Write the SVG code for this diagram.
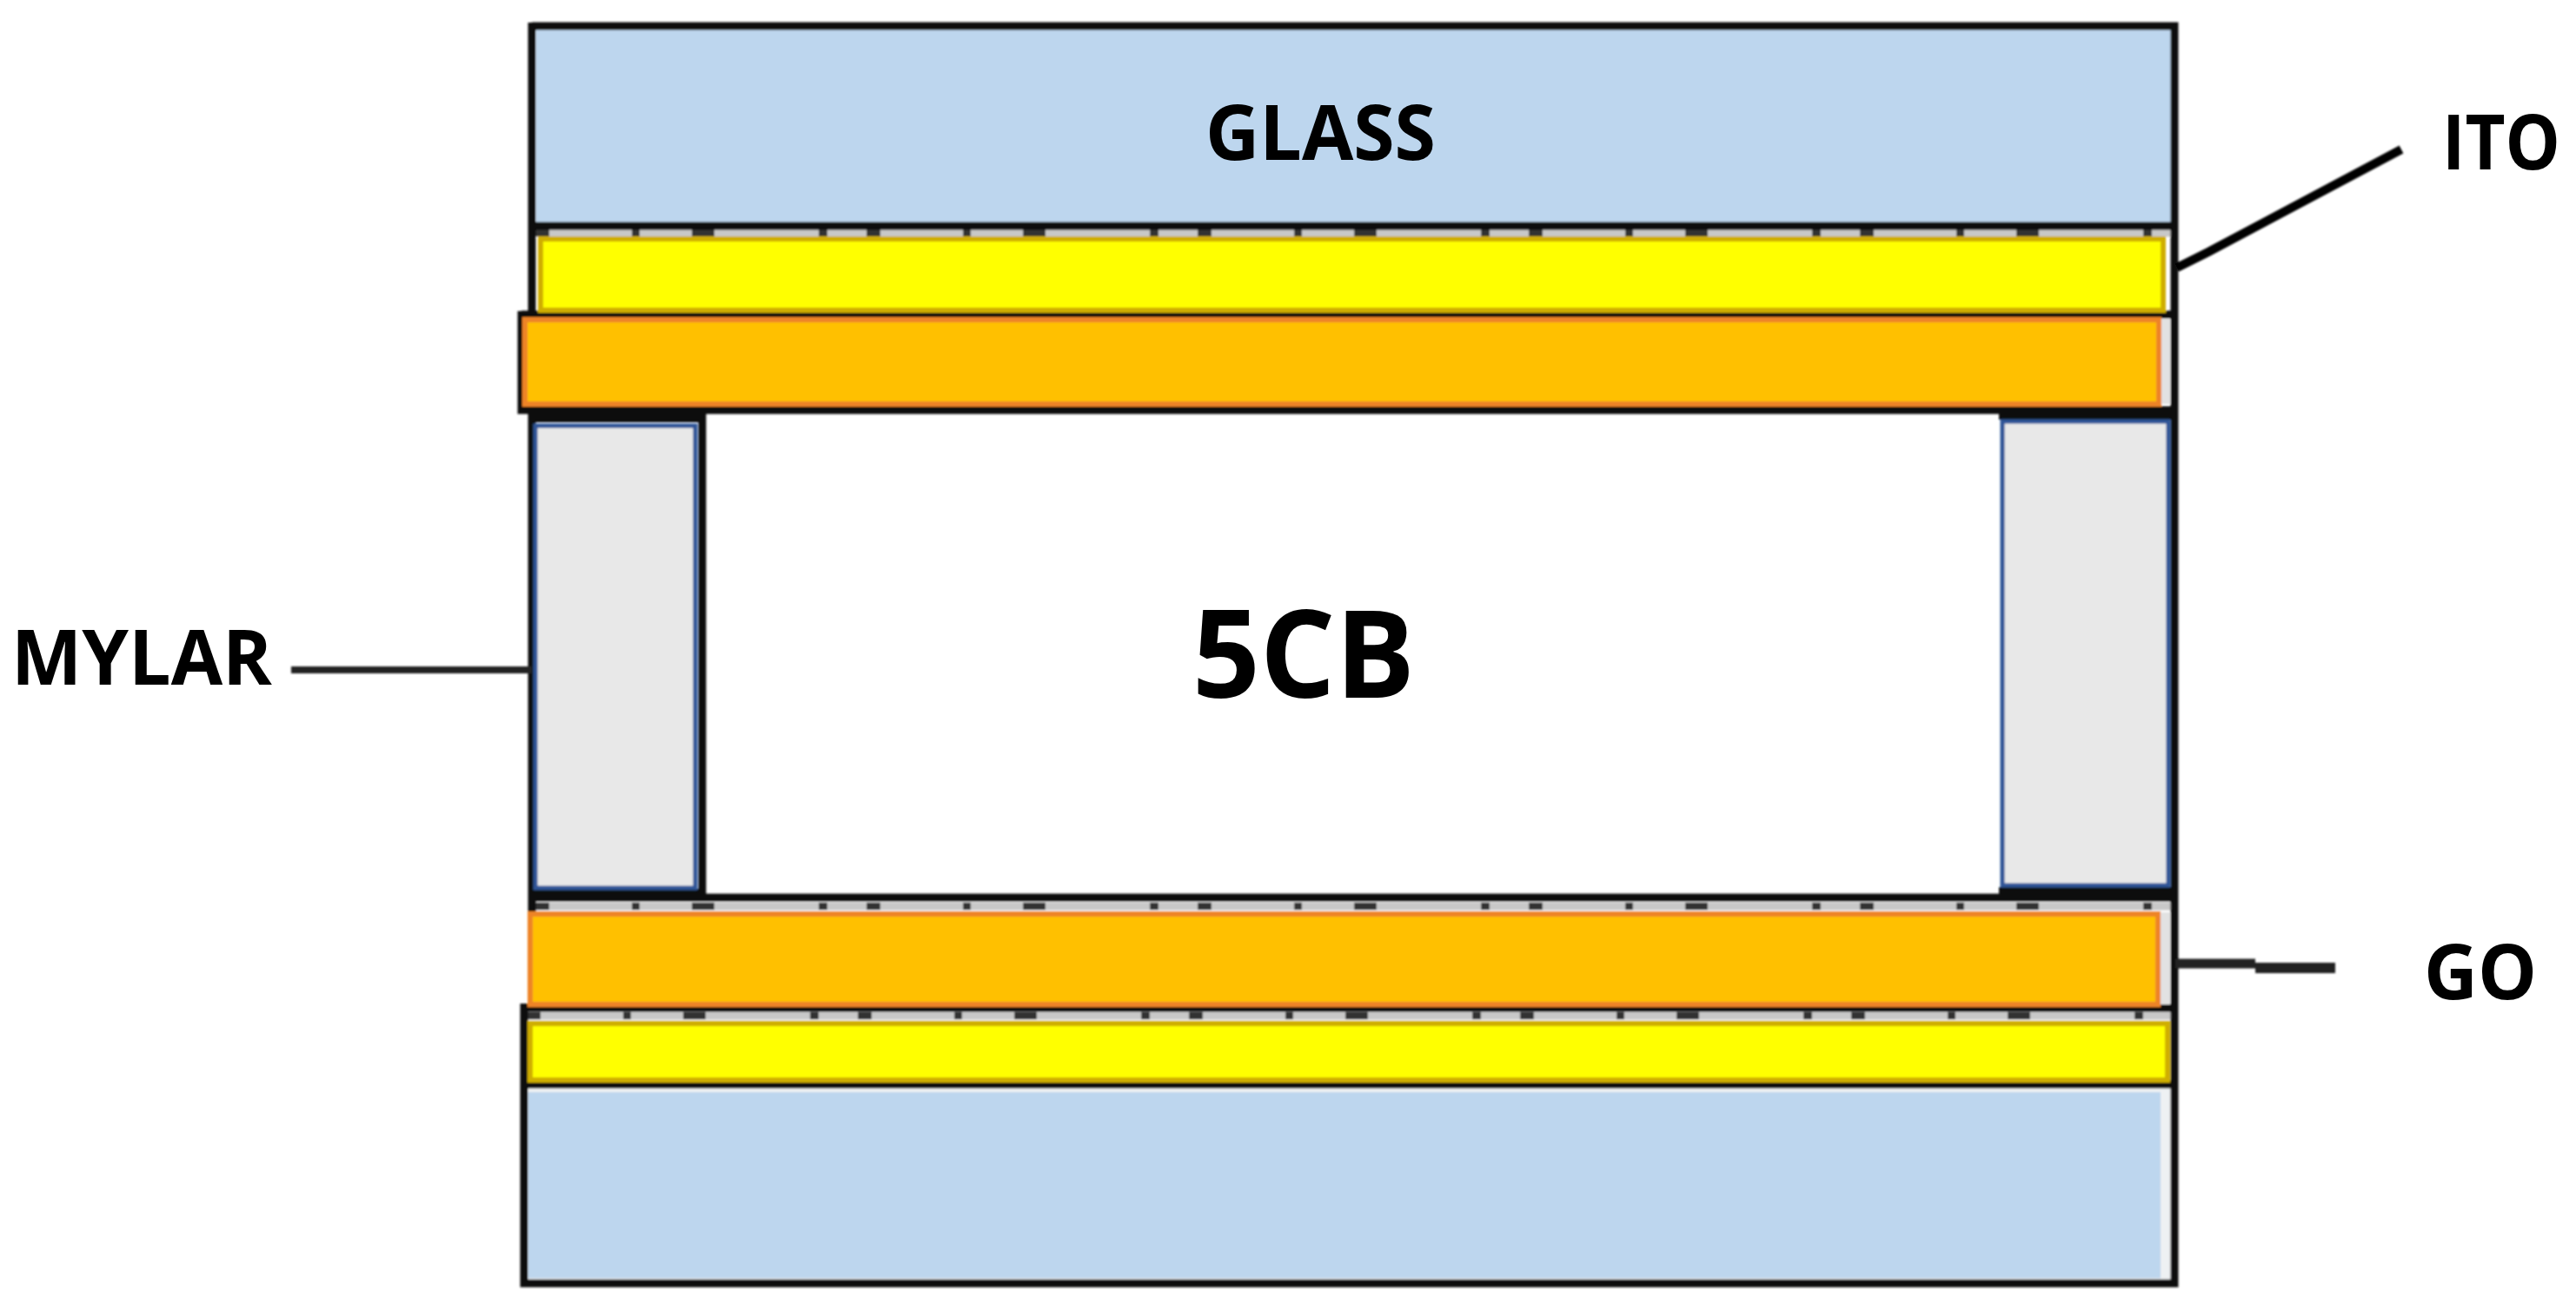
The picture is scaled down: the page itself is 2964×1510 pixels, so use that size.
<svg xmlns="http://www.w3.org/2000/svg" width="2964" height="1510" viewBox="0 0 2964 1510">
<defs>
<filter id="soft" x="-2%" y="-2%" width="104%" height="104%"><feGaussianBlur stdDeviation="1.1"/></filter>
<style>
.glass{fill:#bdd6ee}
.ito{fill:#ffff00;stroke:#cfae00;stroke-width:6}
.go{fill:#ffc000;stroke:#ee8428;stroke-width:6}
.mylar{fill:#e8e8e8;stroke:#2f5597;stroke-width:5}
.k{stroke:#111;fill:none;stroke-width:9}
.d{stroke:#333;stroke-width:8;stroke-dasharray:16 95 9 60 26 120 10 45;fill:none}
.dl{stroke:#c8c8c8;stroke-width:9;fill:none}
.t{font-family:"Open Sans","Noto Sans","Liberation Sans",sans-serif;font-weight:bold;fill:#000}
</style></defs>
<rect width="2964" height="1510" fill="#fff"/>
<g filter="url(#soft)">
<g id="glass-top"><rect class="glass" x="617" y="34" width="1881" height="222"/></g>
<g id="glass-bottom"><rect x="608" y="1252" width="1890" height="222" fill="#eef1f3"/><rect class="glass" x="608" y="1257" width="1878" height="214"/></g>
<g id="seams">
<path class="dl" d="M616 268H2498M616 1043H2498M606 1169H2498"/>
<path class="d" d="M616 268H2498M616 1043H2498M606 1169H2498"/>
</g>
<g id="outline">
<path class="k" d="M612 30H2502V1477H603V1155"/>
<path class="k" d="M612 26V360M612 470V1050"/>
<path class="k" d="M612 260H2498"/>
<path class="k" stroke-width="10" d="M600 362H2498"/>
<path class="k" stroke-width="11" d="M600 358V472H2498"/>
<path class="k" d="M612 1033H2498"/>
<path class="k" d="M603 1160H2498"/>
<path class="k" d="M603 1248H2498"/>
<path class="k" d="M808 470V1035"/>
<path d="M612 472H808V486H612ZM612 1023H808V1035H612ZM2300 472H2498V483H2300ZM2300 1021H2498V1035H2300Z" fill="#111"/>
</g>
<g id="ito-top"><rect class="ito" x="622" y="275" width="1867" height="82"/></g>
<g id="go-top"><rect x="2486" y="367" width="11" height="98" fill="#e2e2e2"/><rect class="go" x="604" y="368" width="1880" height="97"/></g>
<g id="mylar-left"><rect class="mylar" x="616" y="490" width="184" height="532"/></g>
<g id="mylar-right"><rect class="mylar" x="2304" y="485" width="191" height="534"/></g>
<g id="go-bottom"><rect x="2485" y="1050" width="12" height="106" fill="#e2e2e2"/><rect class="go" x="610" y="1052" width="1873" height="104"/></g>
<g id="ito-bottom"><rect class="ito" x="610" y="1178" width="1884" height="65"/></g>
<g id="connectors">
<path d="M2505 308L2541 290L2763 172" fill="none" stroke="#000" stroke-width="10"/>
<path d="M335 771H612" fill="none" stroke="#222" stroke-width="8"/>
<path d="M2503 1109H2595" fill="none" stroke="#222" stroke-width="11"/>
<path d="M2595 1114H2687" fill="none" stroke="#222" stroke-width="12"/>
</g>
</g>
<g id="labels">
<text class="t" x="1387" y="184" font-size="87" textLength="265" lengthAdjust="spacingAndGlyphs">GLASS</text>
<text class="t" x="2810" y="195" font-size="87" textLength="136" lengthAdjust="spacingAndGlyphs">ITO</text>
<text class="t" x="13" y="788" font-size="87" textLength="300" lengthAdjust="spacingAndGlyphs">MYLAR</text>
<text class="t" x="1372" y="803" font-size="140" textLength="256" lengthAdjust="spacingAndGlyphs">5CB</text>
<text class="t" x="2789" y="1150" font-size="87" textLength="130" lengthAdjust="spacingAndGlyphs">GO</text>
</g>
</svg>
